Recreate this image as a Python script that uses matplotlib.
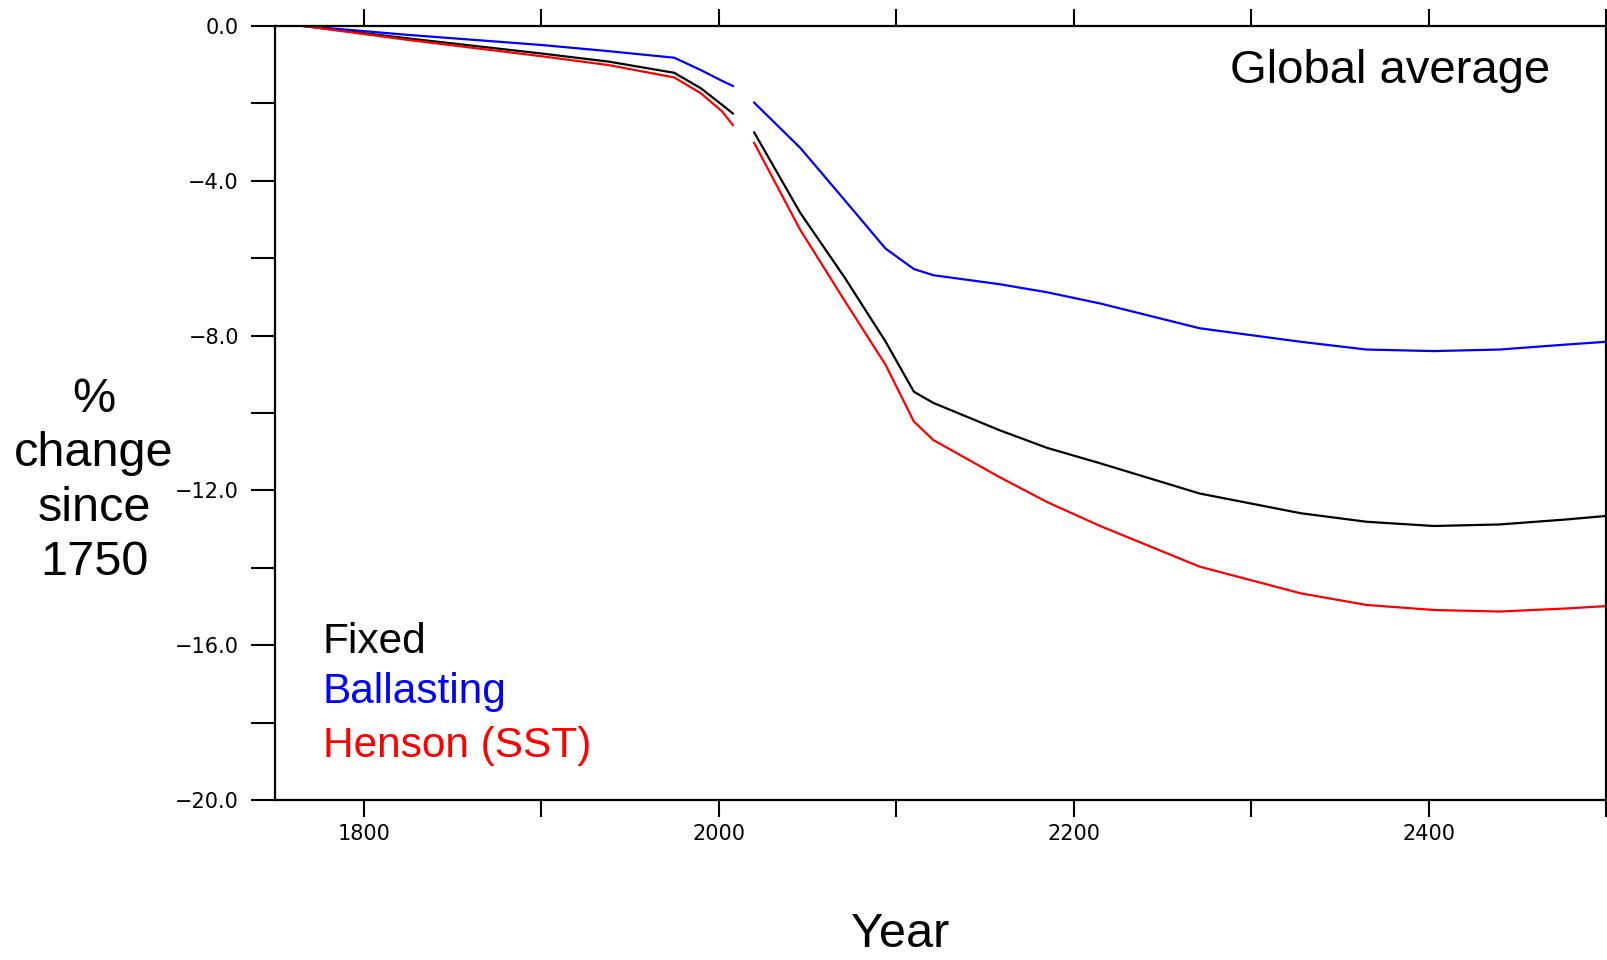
import numpy as np
import matplotlib.pyplot as plt

plt.rcParams['font.family'] = ['Liberation Sans', 'DejaVu Sans']

# years; NaN marks the white gap in the original around 2014
years = [1766, 1825, 1900, 1938, 1975, 1990, 2002, 2008, 2014, 2020, 2046, 2071,
         2094, 2110, 2121, 2158, 2185, 2215, 2271, 2328, 2365, 2403, 2440, 2478, 2500]

fixed = [0.0, -0.32, -0.71, -0.92, -1.21, -1.61, -2.04, -2.26, np.nan, -2.75, -4.83, -6.5,
         -8.15, -9.45, -9.74, -10.44, -10.9, -11.30, -12.08, -12.59, -12.81, -12.92, -12.88, -12.75, -12.66]
ballast = [0.0, -0.23, -0.49, -0.65, -0.82, -1.14, -1.42, -1.55, np.nan, -1.98, -3.15, -4.5,
           -5.75, -6.28, -6.44, -6.67, -6.88, -7.17, -7.81, -8.16, -8.36, -8.40, -8.36, -8.23, -8.16]
henson = [0.0, -0.36, -0.78, -1.01, -1.33, -1.74, -2.21, -2.56, np.nan, -3.02, -5.27, -7.1,
          -8.75, -10.22, -10.70, -11.65, -12.3, -12.92, -13.97, -14.66, -14.96, -15.09, -15.13, -15.05, -14.99]

xticks = np.arange(1800, 2501, 100)
xlabels = ['1800', '', '2000', '', '2200', '', '2400', '']
yticks = np.arange(-20, 0.1, 2)
ylabels = ['\u221220.0', '', '\u221216.0', '', '\u221212.0', '', '\u22128.0', '', '\u22124.0', '', '0.0']

fig = plt.figure(figsize=(16.07, 9.6), dpi=100)
ax = fig.add_axes([275/1607, 1 - 800/960, 1331/1607, 774/960])

ax.plot(years, fixed, color='black', lw=1.6)
ax.plot(years, ballast, color='blue', lw=1.6)
ax.plot(years, henson, color='red', lw=1.6)

ax.set_xlim(1750, 2500)
ax.set_ylim(-20, 0)
ax.set_xticks(xticks)
ax.set_xticklabels(xlabels, fontfamily='DejaVu Sans', fontsize=15)
ax.set_yticks(yticks)
ax.set_yticklabels(ylabels, fontfamily='DejaVu Sans', fontsize=15)
ax.tick_params(axis='x', direction='out', length=12, width=1.5, pad=5, top=True)
ax.tick_params(axis='y', direction='out', length=17, width=1.5, pad=9)
for s in ax.spines.values():
    s.set_linewidth(1.6)

ax.text(0.958, 0.942, 'Global average', transform=ax.transAxes, fontsize=34,
        ha='right', va='center')
ax.text(0.036, 0.190, 'Fixed', transform=ax.transAxes, fontsize=30.5, color='black')
ax.text(0.036, 0.125, 'Ballasting', transform=ax.transAxes, fontsize=30.5, color='blue')
ax.text(0.036, 0.056, 'Henson (SST)', transform=ax.transAxes, fontsize=30.5, color='red')

fig.text(94/1607, 1 - 481/960, '%\nchange\nsince\n1750', fontsize=35,
         ha='center', va='center', linespacing=1.27)
fig.text(900/1607, 0.003, 'Year', fontsize=35, ha='center', va='bottom')

fig.savefig('out.png', dpi=100)
